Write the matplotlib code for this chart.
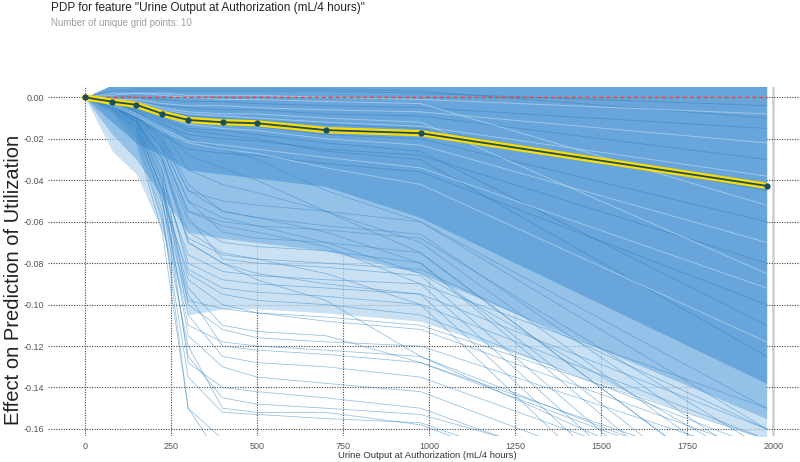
import matplotlib
matplotlib.use("Agg")
import matplotlib.pyplot as plt

plt.rcParams['font.family'] = ['Liberation Sans', 'DejaVu Sans']

# grid points of the feature and the average (PDP) line
grid_x = [0, 80, 150, 225, 300, 400, 500, 700, 975, 1980]
pdp_y = [0.0, -0.0021, -0.0036, -0.0079, -0.0109, -0.0120, -0.0125, -0.0158, -0.0173, -0.0427]

# envelopes of the ICE line bundle (dense core, medium, light fringe)
band_top = [0.0, 0.006, 0.006, 0.006, 0.006, 0.006, 0.006, 0.006, 0.006, 0.006]
core_low = [0.0, -0.012, -0.022, -0.028, -0.035, -0.037, -0.039, -0.043, -0.058, -0.138]
mid_low = [0.0, -0.018, -0.030, -0.048, -0.065, -0.068, -0.070, -0.074, -0.085, -0.155]
light_low = [0.0, -0.026, -0.037, -0.065, -0.105, -0.102, -0.102, -0.104, -0.108, -0.165]

# single ICE lines
steep_lines = [
    [0, -0.004, -0.012, -0.040, -0.128, -0.140, -0.142, -0.145, -0.150, -0.210],
    [0, -0.006, -0.018, -0.055, -0.150, -0.165, -0.170, -0.175, -0.180, -0.240],
    [0, -0.005, -0.015, -0.050, -0.110, -0.118, -0.120, -0.122, -0.125, -0.190],
    [0, -0.003, -0.010, -0.035, -0.100, -0.112, -0.116, -0.118, -0.120, -0.175],
    [0, -0.004, -0.014, -0.045, -0.092, -0.110, -0.113, -0.115, -0.128, -0.185],
    [0, -0.005, -0.016, -0.048, -0.085, -0.095, -0.098, -0.100, -0.105, -0.170],
    [0, -0.003, -0.011, -0.038, -0.080, -0.088, -0.090, -0.092, -0.095, -0.160],
    [0, -0.004, -0.013, -0.042, -0.076, -0.084, -0.086, -0.088, -0.090, -0.150],
    [0, -0.006, -0.020, -0.060, -0.120, -0.150, -0.152, -0.152, -0.158, -0.220],
    [0, -0.004, -0.012, -0.040, -0.105, -0.125, -0.128, -0.130, -0.135, -0.195],
    [0, -0.005, -0.015, -0.045, -0.115, -0.130, -0.135, -0.138, -0.142, -0.205],
    [0, -0.005, -0.017, -0.052, -0.098, -0.102, -0.104, -0.106, -0.110, -0.165],
    [0, -0.004, -0.014, -0.044, -0.088, -0.100, -0.104, -0.108, -0.112, -0.172],
    [0, -0.007, -0.022, -0.065, -0.150, -0.175, -0.180, -0.185, -0.190, -0.250],
    [0, -0.005, -0.016, -0.050, -0.125, -0.145, -0.148, -0.150, -0.153, -0.200],
    [0, -0.004, -0.012, -0.046, -0.095, -0.120, -0.122, -0.124, -0.128, -0.190],
    [0, -0.006, -0.019, -0.058, -0.135, -0.152, -0.153, -0.155, -0.157, -0.215],
    [0, -0.003, -0.010, -0.036, -0.083, -0.092, -0.094, -0.096, -0.100, -0.165],
]
drift_lines = [
    [0, -0.002, -0.006, -0.012, -0.020, -0.025, -0.030, -0.045, -0.060, -0.160],
    [0, -0.003, -0.008, -0.016, -0.028, -0.034, -0.040, -0.055, -0.070, -0.190],
    [0, -0.003, -0.009, -0.020, -0.045, -0.055, -0.058, -0.065, -0.080, -0.220],
    [0, -0.004, -0.010, -0.025, -0.055, -0.062, -0.065, -0.072, -0.090, -0.240],
    [0, -0.004, -0.011, -0.030, -0.065, -0.075, -0.078, -0.085, -0.100, -0.260],
    [0, -0.002, -0.007, -0.015, -0.035, -0.042, -0.046, -0.055, -0.075, -0.200],
    [0, -0.003, -0.008, -0.022, -0.050, -0.058, -0.062, -0.070, -0.085, -0.180],
    [0, -0.004, -0.012, -0.030, -0.070, -0.080, -0.085, -0.090, -0.095, -0.250],
    [0, -0.004, -0.012, -0.032, -0.070, -0.080, -0.088, -0.098, -0.125, -0.200],
]
flat_lines = [
    [0, -0.003, -0.008, -0.020, -0.045, -0.050, -0.052, -0.055, -0.060, -0.150],
    [0, -0.004, -0.010, -0.025, -0.055, -0.060, -0.062, -0.064, -0.068, -0.170],
    [0, -0.003, -0.009, -0.022, -0.050, -0.065, -0.068, -0.070, -0.075, -0.200],
    [0, -0.004, -0.011, -0.028, -0.060, -0.070, -0.072, -0.074, -0.080, -0.210],
    [0, -0.002, -0.007, -0.018, -0.042, -0.055, -0.058, -0.062, -0.066, -0.180],
    [0, -0.003, -0.009, -0.024, -0.058, -0.078, -0.080, -0.082, -0.086, -0.230],
    [0, -0.004, -0.012, -0.030, -0.068, -0.076, -0.078, -0.080, -0.083, -0.160],
]
core_lines = [
    [0, 0.002, 0.003, 0.003, 0.003, 0.003, 0.003, 0.003, 0.002, -0.004],
    [0, -0.001, -0.002, -0.004, -0.005, -0.006, -0.006, -0.008, -0.009, -0.030],
    [0, -0.002, -0.004, -0.008, -0.012, -0.013, -0.014, -0.018, -0.020, -0.060],
    [0, -0.003, -0.007, -0.013, -0.018, -0.020, -0.021, -0.025, -0.028, -0.080],
    [0, 0.001, 0.000, -0.001, -0.002, -0.002, -0.003, -0.004, -0.005, -0.015],
    [0, -0.004, -0.010, -0.018, -0.025, -0.027, -0.028, -0.032, -0.036, -0.100],
    [0, -0.002, -0.005, -0.010, -0.015, -0.016, -0.018, -0.022, -0.026, -0.110],
    [0, 0.003, 0.004, 0.004, 0.004, 0.004, 0.004, 0.004, 0.003, -0.010],
    [0, -0.001, -0.003, -0.006, -0.009, -0.010, -0.011, -0.013, -0.015, -0.045],
    [0, -0.003, -0.006, -0.011, -0.016, -0.018, -0.020, -0.026, -0.030, -0.125],
]
pale_lines = [
    [0, 0.001, 0.002, 0.002, 0.001, 0.001, 0.001, 0.000, -0.001, -0.008],
    [0, -0.001, -0.001, -0.003, -0.004, -0.004, -0.005, -0.006, -0.007, -0.022],
    [0, -0.002, -0.003, -0.006, -0.008, -0.009, -0.010, -0.012, -0.014, -0.038],
    [0, -0.002, -0.005, -0.009, -0.013, -0.015, -0.016, -0.020, -0.023, -0.070],
    [0, -0.003, -0.008, -0.015, -0.021, -0.023, -0.025, -0.029, -0.034, -0.092],
    [0, -0.004, -0.009, -0.016, -0.022, -0.025, -0.027, -0.034, -0.042, -0.118],
    [0, 0.002, 0.002, 0.001, 0.000, -0.001, -0.001, -0.002, -0.003, -0.052],
    [0, -0.001, -0.002, -0.005, -0.007, -0.008, -0.008, -0.010, -0.012, -0.085],
]

x_ticks = [0, 250, 500, 750, 1000, 1250, 1500, 1750, 2000]
y_ticks = [0.0, -0.02, -0.04, -0.06, -0.08, -0.10, -0.12, -0.14, -0.16]

fig = plt.figure(figsize=(8, 4.62), dpi=100)
ax = fig.add_axes([0.06, 0.0563, 0.94, 0.7554])

# ice bundle
ax.fill_between(grid_x, light_low, band_top, color='#b9d7f0', alpha=0.75, lw=0, zorder=1)
ax.fill_between(grid_x, mid_low, band_top, color='#8fbee6', alpha=0.9, lw=0, zorder=1)
ax.fill_between(grid_x, core_low, band_top, color='#67a5da', lw=0, zorder=1)

for line in steep_lines + drift_lines + flat_lines:
    ax.plot(grid_x, line, color='#3d8bcb', lw=0.55, alpha=0.55, zorder=2)
for line in core_lines:
    ax.plot(grid_x, line, color='#2f78b8', lw=0.6, alpha=0.45, zorder=2)
for line in pale_lines:
    ax.plot(grid_x, line, color='#b5d5ef', lw=0.7, alpha=0.7, zorder=2)

# reference line at zero and the pdp line
ax.plot(grid_x, [0] * len(grid_x), color='#f2452f', ls=(0, (3, 2)), lw=1.0, zorder=3)
ax.plot(grid_x, pdp_y, color='#FEDC00', lw=4.5, zorder=4, solid_capstyle='round')
ax.plot(grid_x, pdp_y, color='#1A4E5D', lw=1.3, marker='o', markersize=3.5, zorder=5)

ax.set_xlim(-107, 2077)
ax.set_ylim(-0.1634, 0.005)
ax.set_xticks(x_ticks)
ax.set_yticks(y_ticks)
ax.set_xticklabels([str(t) for t in x_ticks])
ax.set_yticklabels(['%.2f' % t for t in y_ticks])
ax.tick_params(length=0, labelsize=6.5, labelcolor='#555555', pad=4)
ax.tick_params(axis='y', pad=3)
for s in ax.spines.values():
    s.set_visible(False)
ax.set_axisbelow(True)
ax.grid(True, linestyle=(0, (1, 1.3)), color='#444444', lw=0.8)
ax.get_xgridlines()[-1].set(color='#d0d0d0', linestyle='-', lw=1.8)

fig.text(427 / 800, 1 - 456 / 462, 'Urine Output at Authorization (mL/4 hours)',
         ha='center', va='center', fontsize=6.8, color='#333333')
fig.text(14 / 800, 1 - 280 / 462, 'Effect on Prediction of Utilization', rotation=90,
         ha='center', va='center', fontsize=14.5, color='#222222')
fig.text(51 / 800, 1 - 8 / 462, 'PDP for feature "Urine Output at Authorization (mL/4 hours)"',
         ha='left', va='center', fontsize=8.5, color='#222222')
fig.text(51 / 800, 1 - 23 / 462, 'Number of unique grid points: 10',
         ha='left', va='center', fontsize=7, color='#9e9e9e')

fig.savefig('out.png', dpi=100)
